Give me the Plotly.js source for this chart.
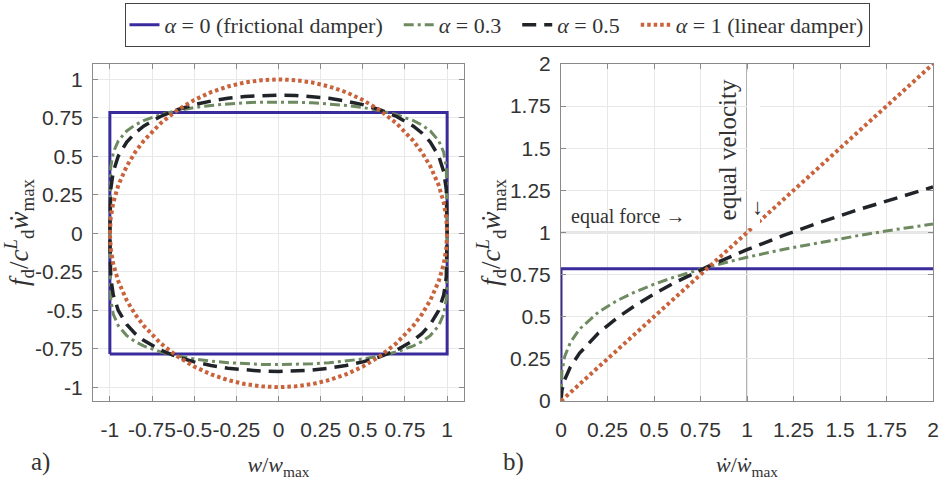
<!DOCTYPE html>
<html>
<head>
<meta charset="utf-8">
<script src="https://cdn.plot.ly/plotly-3.0.1.min.js"></script>
<style>html,body{margin:0;padding:0;background:#fff;}#chart{width:942px;height:484px;}</style>
</head>
<body>
<div id="chart"></div>
<script>
// ---------- data ----------
// a) hysteresis loops: displacement grid and force on the upper / lower branch
const wGrid = [-1, -0.995, -0.98, -0.95, -0.9, -0.85, -0.8, -0.7, -0.6, -0.5, -0.4, -0.3, -0.2, -0.1, 0,
               0.1, 0.2, 0.3, 0.4, 0.5, 0.6, 0.7, 0.8, 0.85, 0.9, 0.95, 0.98, 0.995, 1];
const upA03 = [0, 0.427, 0.525, 0.601, 0.665, 0.704, 0.732, 0.771, 0.798, 0.817, 0.831, 0.841, 0.848, 0.852, 0.853,
               0.852, 0.848, 0.841, 0.831, 0.817, 0.798, 0.771, 0.732, 0.704, 0.665, 0.601, 0.525, 0.427, 0];
const loA03 = [0, -0.427, -0.525, -0.601, -0.665, -0.704, -0.732, -0.771, -0.798, -0.817, -0.831, -0.841, -0.848, -0.852, -0.853,
               -0.852, -0.848, -0.841, -0.831, -0.817, -0.798, -0.771, -0.732, -0.704, -0.665, -0.601, -0.525, -0.427, 0];
const upA05 = [0, 0.284, 0.400, 0.502, 0.593, 0.652, 0.696, 0.759, 0.803, 0.836, 0.859, 0.877, 0.889, 0.896, 0.898,
               0.896, 0.889, 0.877, 0.859, 0.836, 0.803, 0.759, 0.696, 0.652, 0.593, 0.502, 0.400, 0.284, 0];
const loA05 = [0, -0.284, -0.400, -0.502, -0.593, -0.652, -0.696, -0.759, -0.803, -0.836, -0.859, -0.877, -0.889, -0.896, -0.898,
               -0.896, -0.889, -0.877, -0.859, -0.836, -0.803, -0.759, -0.696, -0.652, -0.593, -0.502, -0.400, -0.284, 0];
const upA1  = [0, 0.100, 0.199, 0.312, 0.436, 0.527, 0.600, 0.714, 0.800, 0.866, 0.917, 0.954, 0.980, 0.995, 1.000,
               0.995, 0.980, 0.954, 0.917, 0.866, 0.800, 0.714, 0.600, 0.527, 0.436, 0.312, 0.199, 0.100, 0];
const loA1  = [0, -0.100, -0.199, -0.312, -0.436, -0.527, -0.600, -0.714, -0.800, -0.866, -0.917, -0.954, -0.980, -0.995, -1.000,
               -0.995, -0.980, -0.954, -0.917, -0.866, -0.800, -0.714, -0.600, -0.527, -0.436, -0.312, -0.199, -0.100, 0];
const rectW = [-1, -1, 1, 1, -1];
const rectF = [-0.785, 0.785, 0.785, -0.785, -0.785];

// b) force-velocity curves
const vGrid = [0, 0.005, 0.02, 0.05, 0.1, 0.2, 0.3, 0.4, 0.5, 0.6, 0.8, 1.0, 1.2, 1.4, 1.6, 1.8, 2.0];
const fvA03 = [0, 0.174, 0.264, 0.347, 0.427, 0.526, 0.595, 0.648, 0.693, 0.732, 0.798, 0.853, 0.901, 0.943, 0.982, 1.018, 1.050];
const fvA05 = [0, 0.063, 0.127, 0.201, 0.284, 0.402, 0.492, 0.568, 0.635, 0.696, 0.803, 0.898, 0.984, 1.063, 1.136, 1.205, 1.270];
const vLin  = [0, 0.5, 1, 1.5, 2];
const fvA1  = [0, 0.5, 1, 1.5, 2];
const vFric = [0, 0, 2];
const fvA0  = [0, 0.785, 0.785];

const tickA = [-1, -0.75, -0.5, -0.25, 0, 0.25, 0.5, 0.75, 1];
const tickAtxt = ['-1', '-0.75', '-0.5', '-0.25', '0', '0.25', '0.5', '0.75', '1'];
const tickB = [0, 0.25, 0.5, 0.75, 1, 1.25, 1.5, 1.75, 2];
const tickBtxt = ['0', '0.25', '0.5', '0.75', '1', '1.25', '1.5', '1.75', '2'];

const pad = '\u00A0\u00A0';
const names = ['<i>α</i> = 0 (frictional damper)' + pad, '<i>α</i> = 0.3' + pad, '<i>α</i> = 0.5' + pad, '<i>α</i> = 1 (linear damper)'];
// ---------- styles ----------
const C0 = '#3a2b9c', C03 = '#6e8a60', C05 = '#202428', C1 = '#c9633c';
const L0 = {color: C0, width: 3};
const L03 = {color: C03, width: 3, dash: '10px,4px,3px,4px'};
const L05 = {color: C05, width: 3.5, dash: '14px,8px'};
const L1 = {color: C1, width: 4, dash: '3.5px,3px'};

function loop(up, lo) {
  return {x: wGrid.concat(wGrid.slice().reverse()), y: up.concat(lo.slice().reverse())};
}
const l03 = loop(upA03, loA03), l05 = loop(upA05, loA05), l1 = loop(upA1, loA1);

const traces = [
  {x: rectW, y: rectF, mode: 'lines', line: L0, name: names[0], legendgroup: 'g0'},
  {x: l03.x, y: l03.y, mode: 'lines', line: L03, name: names[1], legendgroup: 'g1'},
  {x: l05.x, y: l05.y, mode: 'lines', line: L05, name: names[2], legendgroup: 'g2'},
  {x: l1.x, y: l1.y, mode: 'lines', line: L1, name: names[3], legendgroup: 'g3'},
  {x: vFric, y: fvA0, xaxis: 'x2', yaxis: 'y2', mode: 'lines', line: L0, showlegend: false, legendgroup: 'g0'},
  {x: vGrid, y: fvA03, xaxis: 'x2', yaxis: 'y2', mode: 'lines', line: L03, showlegend: false, legendgroup: 'g1'},
  {x: vGrid, y: fvA05, xaxis: 'x2', yaxis: 'y2', mode: 'lines', line: L05, showlegend: false, legendgroup: 'g2'},
  {x: vLin, y: fvA1, xaxis: 'x2', yaxis: 'y2', mode: 'lines', line: L1, showlegend: false, legendgroup: 'g3'},
  // invisible carrier for the helper axis whose (rotated) title is the "equal velocity" label
  {x: vLin, y: fvA1, xaxis: 'x3', yaxis: 'y3', mode: 'none', showlegend: false, hoverinfo: 'skip'}
];

const tickFont = {family: 'Liberation Sans Narrow, Liberation Sans, Arial, sans-serif', size: 21, color: '#333'};
const serif = 'Liberation Serif, DejaVu Serif, serif';
const axBase = {
  showline: true, mirror: 'ticks', linecolor: '#8a8a8a', linewidth: 1,
  ticks: 'inside', ticklen: 5, tickcolor: '#8a8a8a', tickwidth: 1,
  showgrid: true, gridcolor: '#e8e8e8', gridwidth: 1, zeroline: false,
  tickfont: tickFont, tickmode: 'array', automargin: false, tickangle: 0
};
const yDom = [1 - 401/484, 1 - 64/484];
const yTitle = '<i>f</i><sub>d</sub>/<i>c</i><sup><i>L</i></sup><sub>d</sub><i>ẇ</i><sub>max</sub>';

const layout = {
  width: 942, height: 484, autosize: false,
  margin: {l: 0, r: 0, t: 0, b: 0},
  paper_bgcolor: '#fff', plot_bgcolor: '#fff',
  font: {family: serif, color: '#333'},
  xaxis: Object.assign({}, axBase, {domain: [93/942, 464/942], range: [-1.1, 1.1], tickvals: tickA, ticktext: tickAtxt, anchor: 'y',
    ticklabelstandoff: 10,
    title: {text: '<i>w</i>/<i>w</i><sub>max</sub>', font: {family: serif, size: 22, color: '#333'}, standoff: 16}}),
  yaxis: Object.assign({}, axBase, {domain: yDom, range: [-1.09, 1.1], tickvals: tickA, ticktext: tickAtxt, anchor: 'x',
    ticklabelstandoff: 5,
    title: {text: yTitle, font: {family: serif, size: 27, color: '#333'}, standoff: 0}}),
  xaxis2: Object.assign({}, axBase, {domain: [561/942, 933/942], range: [0, 2], tickvals: tickB, ticktext: tickBtxt, anchor: 'y2',
    ticklabelstandoff: 10,
    title: {text: '<i>ẇ</i>/<i>ẇ</i><sub>max</sub>', font: {family: serif, size: 22, color: '#333'}, standoff: 16}}),
  yaxis2: Object.assign({}, axBase, {domain: yDom, range: [0, 2], tickvals: tickB, ticktext: tickBtxt, anchor: 'x2',
    ticklabelstandoff: 5,
    title: {text: yTitle, font: {family: serif, size: 27, color: '#333'}, standoff: 0}}),
  xaxis3: {domain: [747/942, 760/942], anchor: 'y3', visible: false, range: [0, 2]},
  yaxis3: {domain: [1 - 228/484, 1 - 72/484], anchor: 'x3', side: 'left', range: [0, 2],
    showgrid: false, zeroline: false, showline: false, ticks: '', showticklabels: false, automargin: false,
    title: {text: 'equal velocity', font: {family: serif, size: 25, color: '#333'}, standoff: 2}},
  showlegend: true,
  legend: {orientation: 'h', x: 497/942, xanchor: 'center', y: 1 - 3/484, yanchor: 'top',
    bordercolor: '#444', borderwidth: 1, bgcolor: '#fff', traceorder: 'grouped',
    font: {family: serif, size: 22, color: '#333'}, itemwidth: 30, tracegroupgap: 0},
  shapes: [
    {type: 'line', xref: 'x2', yref: 'y2', x0: 0, x1: 2, y0: 1, y1: 1, line: {color: '#9a9a9a', width: 1.5}, layer: 'below'},
    {type: 'line', xref: 'x2', yref: 'y2', x0: 1, x1: 1, y0: 0, y1: 2, line: {color: '#9a9a9a', width: 1.5}, layer: 'below'}
  ],
  annotations: [
    {text: 'a)', xref: 'paper', yref: 'paper', x: 40/942, y: 1 - 462/484, xanchor: 'center', yanchor: 'middle', showarrow: false, font: {family: serif, size: 25, color: '#333'}},
    {text: 'b)', xref: 'paper', yref: 'paper', x: 513/942, y: 1 - 462/484, xanchor: 'center', yanchor: 'middle', showarrow: false, font: {family: serif, size: 25, color: '#333'}},
    {text: 'equal force →', xref: 'paper', yref: 'paper', x: 569/942, xanchor: 'left', y: 1 - 216/484, yanchor: 'middle', showarrow: false, font: {family: serif, size: 20, color: '#333'}},
    {text: '↓', xref: 'paper', yref: 'paper', x: 757/942, y: 1 - 206/484, xanchor: 'center', yanchor: 'middle', showarrow: false, font: {family: serif, size: 22, color: '#333'}}
  ]
};

Plotly.newPlot('chart', traces, layout, {displayModeBar: false, staticPlot: true});
</script>
</body>
</html>
